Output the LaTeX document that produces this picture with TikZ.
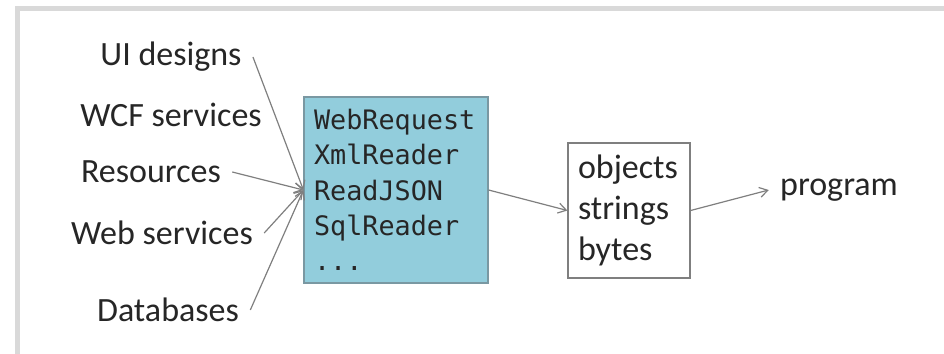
\documentclass[tikz,border=0pt]{standalone}
\usepackage{fontspec}
\setmainfont{Carlito}
\newfontfamily\codefont{DejaVu Sans Mono}
\usetikzlibrary{arrows.meta}
\definecolor{ink}{HTML}{262626}
\definecolor{wire}{HTML}{7F7F7F}
\definecolor{aqua}{HTML}{92CDDC}
\definecolor{aquaedge}{HTML}{7A98A2}
\definecolor{frame}{HTML}{D9D9D9}
\tikzset{
  src/.style={text=ink, font=\fontsize{17pt}{20pt}\selectfont, inner sep=5.5pt},
  feed/.style={draw=wire, line width=0.6pt, -{Straight Barb[length=4pt,width=5pt]}},
  apibox/.style={draw=aquaedge, fill=aqua, line width=0.6pt, text=ink,
    font=\codefont\fontsize{13.4pt}{17.6pt}\selectfont, align=left,
    text width=82pt, inner xsep=5pt, minimum width=92pt, minimum height=93pt},
  databox/.style={draw=wire, line width=0.6pt, text=ink,
    font=\fontsize{17pt}{20.5pt}\selectfont, align=left,
    text width=51pt, inner xsep=5pt, minimum width=61pt, minimum height=67.5pt}
}
\begin{document}
\begin{tikzpicture}[x=0.5pt, y=-0.5pt]
  \useasboundingbox (0,0) rectangle (944,354);
  % slide frame
  \draw[frame, line width=2.5pt] (17.5,354) -- (17.5,8.5) -- (944,8.5);

  % sources
  \node[src] (ui)  at (171,57)  {UI designs};
  \node[src] (wcf) at (171,115) {WCF services};
  \node[src] (res) at (151,172) {Resources};
  \node[src] (web) at (162,233) {Web services};
  \node[src] (db)  at (168,310) {Databases};

  % reader APIs
  \node[apibox] (api) at (396,190) {WebRequest\\XmlReader\\ReadJSON\\SqlReader\\...};

  % intermediate data
  \node[databox] (data) at (629,210.5) {objects\\strings\\bytes};

  % result
  \node[src] (prog) at (839,190) {program};

  % connectors
  \draw[feed] (ui.east)  -- (api.west);
  \draw[feed] (res.east) -- (api.west);
  \draw[feed] (web.east) -- (api.west);
  \draw[feed] (db.east)  -- (api.west);
  \draw[feed] (api.east) -- (data.west);
  \draw[feed] (data.east) -- (prog.west);
\end{tikzpicture}
\end{document}
